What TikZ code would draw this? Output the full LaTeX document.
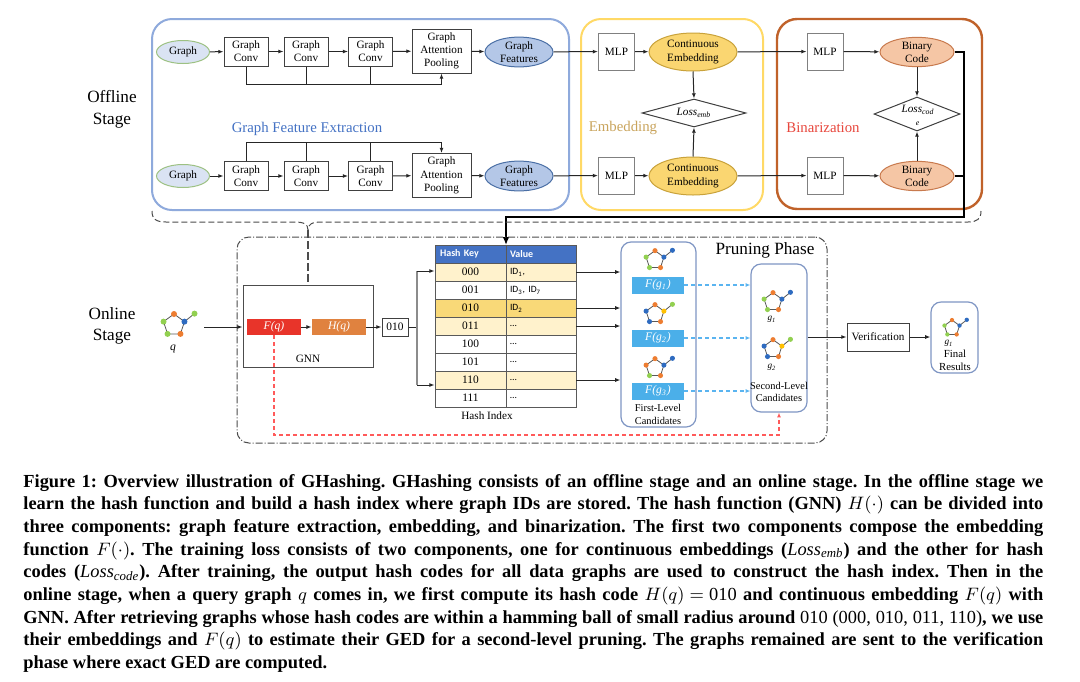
\documentclass[tikz,border=0pt]{standalone}
\usepackage{fontspec}
\setmainfont{Liberation Serif}
\newfontfamily\calib{Carlito}
\usetikzlibrary{arrows.meta,shapes.geometric,calc}
\definecolor{gfblue}{HTML}{4472C4}
\definecolor{boxblue}{HTML}{8FAADC}
\definecolor{boxyel}{HTML}{FFD966}
\definecolor{boxbrown}{HTML}{C0622A}
\definecolor{embtxt}{HTML}{C9A45C}
\definecolor{bintxt}{HTML}{E8473D}
\definecolor{gfill}{HTML}{DAE3F3}
\definecolor{gborder}{HTML}{9DC183}
\definecolor{gffill}{HTML}{B4C7E7}
\definecolor{gfborder}{HTML}{4A6FA5}
\definecolor{cefill}{HTML}{FAD671}
\definecolor{ceborder}{HTML}{C9A23A}
\definecolor{bcfill}{HTML}{F5C6A5}
\definecolor{bcborder}{HTML}{C87A4E}
\definecolor{rowl}{HTML}{FFF2CC}
\definecolor{rowd}{HTML}{F9D978}
\definecolor{hdr}{HTML}{4472C4}
\definecolor{fqred}{HTML}{E8342A}
\definecolor{hqor}{HTML}{E0823F}
\definecolor{fgblue}{HTML}{4BAFE9}
\definecolor{candb}{HTML}{7F96C4}
\definecolor{nor}{HTML}{ED7D31}
\definecolor{nbl}{HTML}{2E6BC0}
\definecolor{ngr}{HTML}{92D050}
\definecolor{nye}{HTML}{FFC000}
\definecolor{dashred}{HTML}{FF5A5A}
\definecolor{dashblue}{HTML}{5AB4F0}
\newcommand\gicon[9]{%
  \begin{scope}[shift={(#1,#2)}, scale=#3]
    \coordinate (gT) at (0,-11);
    \coordinate (gR) at (10.46,-3.4);
    \coordinate (gBR) at (6.47,8.9);
    \coordinate (gBL) at (-6.47,8.9);
    \coordinate (gL) at (-10.46,-3.4);
    \coordinate (gX) at (20.5,-11.4);
    \draw[line width=0.4pt, black!65] (gT)--(gR)--(gBR)--(gBL)--(gL)--cycle (gR)--(gX);
    \fill[#4] (gT) circle (3);
    \fill[#5] (gR) circle (3);
    \fill[#6] (gX) circle (3);
    \fill[#7] (gBR) circle (3);
    \fill[#8] (gBL) circle (3);
    \fill[#9] (gL) circle (3);
  \end{scope}}
\newcommand\itsub[2]{\textit{#1}\textsubscript{\textit{#2}}}
\newcommand\capfont{\bfseries\fontsize{9.2}{10}\selectfont\frenchspacing\thickmuskip=5mu\relax\medmuskip=4mu\relax}
\begin{document}
\begin{tikzpicture}[x=0.5pt,y=-0.5pt,
  lbl/.style={font=\fontsize{5.6}{6.6}\selectfont, align=center, inner sep=0pt},
  sq/.style={lbl, rectangle, draw=black!75, fill=white, line width=0.5pt},
  conv/.style={sq, minimum width=22pt, minimum height=14.5pt},
  pool/.style={sq, minimum width=29.5pt, minimum height=22pt},
  mlp/.style={sq, draw=black!50, minimum width=18pt, minimum height=18.5pt},
  gell/.style={lbl, ellipse, draw=gborder, fill=gfill, line width=0.5pt, minimum width=26.5pt, minimum height=11.5pt},
  gfell/.style={lbl, ellipse, draw=gfborder, fill=gffill, line width=0.5pt, minimum width=34pt, minimum height=13.5pt},
  ceell/.style={lbl, ellipse, draw=ceborder, fill=cefill, line width=0.5pt, minimum width=44pt, minimum height=19pt},
  bcell/.style={lbl, ellipse, draw=bcborder, fill=bcfill, line width=0.5pt, minimum width=37pt, minimum height=14.5pt},
  lossd/.style={diamond, draw=black!75, fill=white, line width=0.5pt, inner sep=0pt},
  arr/.style={-{Latex[length=2.6pt,width=2pt]}, line width=0.5pt, black!85},
  ln/.style={line width=0.5pt, black!85},
  stage/.style={font=\fontsize{8.6}{10.3}\selectfont, align=center, inner sep=0pt},
  ttl/.style={font=\fontsize{7.4}{8.8}\selectfont, inner sep=0pt},
  bigbox/.style={rectangle, rounded corners=10pt, line width=1pt, inner sep=0pt},
  cand/.style={rectangle, draw=candb, line width=0.6pt, rounded corners=5pt, fill=white, inner sep=0pt},
  fgbox/.style={rectangle, fill=fgblue, inner sep=0pt, minimum width=26pt, minimum height=8.5pt, text=white, font=\fontsize{5.8}{6.6}\selectfont},
  cell/.style={rectangle, draw=black!65, line width=0.45pt, inner sep=0pt, minimum height=9pt},
  keyc/.style={cell, minimum width=35.5pt, font=\fontsize{5.7}{6.5}\selectfont},
  valc/.style={cell, text width=31pt, inner xsep=2pt, align=left, font=\calib\fontsize{4.8}{6}\selectfont},
  smalltxt/.style={font=\fontsize{5.2}{6.4}\selectfont, align=center, inner sep=0pt},
  captxt/.style={font=\capfont, inner sep=0pt, anchor=base west}]
\useasboundingbox (0,0) rectangle (1080,681);
\fill[white] (0,0) rectangle (1080,681);

% ---------- offline stage boxes
\node[bigbox, draw=boxblue, minimum width=208.5pt, minimum height=95.5pt] (fe) at (360.5,114.5) {};
\node[bigbox, draw=boxyel, minimum width=91pt, minimum height=95.5pt] (embb) at (672,114.5) {};
\node[bigbox, draw=boxbrown, line width=1.2pt, minimum width=102.5pt, minimum height=95pt] (binb) at (879.5,114) {};

\node[stage] (offl) at (112,109) {Offline\\[0.6pt]Stage};
\node[ttl, text=gfblue] (tfe) at (307,129) {Graph Feature Extraction};
\node[ttl, text=embtxt] (temb) at (623,128) {Embedding};
\node[ttl, text=bintxt] (tbin) at (823,128) {Binarization};

% top row
\node[gell] (g1) at (183,52) {Graph};
\node[conv] (c11) at (246,51.5) {Graph\\Conv};
\node[conv] (c12) at (306,51.5) {Graph\\Conv};
\node[conv] (c13) at (370.5,51.5) {Graph\\Conv};
\node[pool] (p1) at (441.5,51) {Graph\\Attention\\Pooling};
\node[gfell] (gf1) at (519,52) {Graph\\Features};
\node[mlp] (m11) at (616.5,51.5) {MLP};
\node[ceell] (ce1) at (693,52) {Continuous\\Embedding};
\node[mlp] (m12) at (825,51.5) {MLP};
\node[bcell] (bc1) at (917,52) {Binary\\Code};

% bottom row
\node[gell] (g2) at (183,176) {Graph};
\node[conv] (c21) at (246,176) {Graph\\Conv};
\node[conv] (c22) at (306,176) {Graph\\Conv};
\node[conv] (c23) at (370.5,176) {Graph\\Conv};
\node[pool] (p2) at (441.5,175.5) {Graph\\Attention\\Pooling};
\node[gfell] (gf2) at (519,176) {Graph\\Features};
\node[mlp] (m21) at (616.5,175.5) {MLP};
\node[ceell] (ce2) at (693,176) {Continuous\\Embedding};
\node[mlp] (m22) at (825,175.5) {MLP};
\node[bcell] (bc2) at (917,176) {Binary\\Code};

% losses
\node[lossd, minimum width=52pt, minimum height=14pt] (le) at (694,113) {};
\node[lbl] (let) at (le) {\itsub{Loss}{emb}};
\node[lossd, minimum width=43pt, minimum height=17pt] (lc) at (917,114) {};
\node[lbl, font=\fontsize{5.6}{5.4}\selectfont] (lct) at (918,115.5) {\itsub{Loss}{cod}\\\textsubscript{\textit{e}}};

% row connectors
\foreach \a/\b in {g1/c11,c11/c12,c12/c13,c13/p1,p1/gf1,gf1/m11,m11/ce1,ce1/m12,m12/bc1,
                   g2/c21,c21/c22,c22/c23,c23/p2,p2/gf2,gf2/m21,m21/ce2,ce2/m22,m22/bc2}
  \draw[arr] (\a) -- (\b);
\draw[arr] (c11.south) -- ++(0,18) -| (p1.south);
\draw[ln] (c12.south) -- ++(0,18);
\draw[ln] (c13.south) -- ++(0,18);
\draw[arr] (c21.north) -- ++(0,-19) -| (p2.north);
\draw[ln] (c22.north) -- ++(0,-19);
\draw[ln] (c23.north) -- ++(0,-19);
\draw[arr] (ce1.south) -- (le.north);
\draw[arr] (ce2.north) -- (le.south);
\draw[arr] (bc1.south) -- (lc.north);
\draw[arr] (bc2.north) -- (lc.south);

% thick connector to hash table
\coordinate (tc1) at (964,217);
\coordinate (tabtop) at (506,245);
\draw[line width=1.1pt, -{Latex[length=4pt,width=3.4pt]}] (bc1.east) -| (tc1) -| (tabtop);
\draw[line width=1.1pt] (bc2.east) -- (bc2.east -| tc1);

% dashed brace
\coordinate (btip) at (308,230);
\draw[black!70, line width=0.5pt, dash pattern=on 3pt off 1.5pt]
  (152,211) .. controls (152,219) and (156,222) .. (166,222) -- (294,222)
  .. controls (304,222) and (308,224) .. (btip)
  .. controls (308,224) and (312,222) .. (322,222) -- (968,222)
  .. controls (977,222) and (981,219) .. (981,211);

% ---------- online stage
\node[rectangle, draw=black!70, line width=0.5pt, rounded corners=6pt, dash pattern=on 3.5pt off 1pt on 0.5pt off 1pt, minimum width=295pt, minimum height=103pt] (onl) at (532,340) {};
\node[stage] (onlt) at (112,326) {Online\\[0.4pt]Stage};
\node[stage] (prun) at (765,250) {Pruning Phase};

\node[rectangle, draw=black!70, line width=0.5pt, minimum width=65pt, minimum height=41pt] (gnn) at (308,326) {};
\node[lbl] (gnnt) at (308,359) {GNN};
\draw[black!70, line width=0.6pt, dash pattern=on 4pt off 1.5pt] (btip) -- (gnn.north);
\node[rectangle, fill=fqred, minimum width=27pt, minimum height=8pt, inner sep=0pt, text=white, font=\fontsize{5.8}{6.6}\selectfont\itshape] (fq) at (274,327) {F(q)};
\node[rectangle, fill=hqor, minimum width=27pt, minimum height=8pt, inner sep=0pt, text=white, font=\fontsize{5.8}{6.6}\selectfont\itshape] (hq) at (339,327) {H(q)};
\node[sq, minimum width=13pt, minimum height=9pt, font=\fontsize{5.7}{6.5}\selectfont] (b010) at (395,327) {010};
\draw[arr] (fq) -- (hq);
\draw[arr] (hq) -- (b010);

\gicon{174}{325}{1}{nor}{nbl}{ngr}{nor}{ngr}{ngr}
\node[lbl, font=\fontsize{5.8}{6.6}\selectfont\itshape] (ql) at (173,349) {q};
\coordinate (qout) at (204,327);
\draw[arr] (qout) -- (qout -| gnn.west);

% hash table
\node[cell, fill=hdr, text=white, minimum width=35.5pt, text width=30.5pt, inner xsep=2.5pt, align=left, font=\calib\bfseries\fontsize{5}{6}\selectfont] (hk) at (470.5,254) {Hash Key};
\node[cell, fill=hdr, text=white, text width=31pt, inner xsep=2pt, align=left, font=\calib\bfseries\fontsize{5}{6}\selectfont] (hv) at (541,254) {Value};
\foreach \k/\v/\c [count=\i from 0] in {000/{ID\textsubscript{1},}/rowl, 001/{ID\textsubscript{3}, ID\textsubscript{7}}/white, 010/{ID\textsubscript{2}}/rowd, 011/{…}/rowl, 100/{…}/white, 101/{…}/white, 110/{…}/rowl, 111/{…}/white}{
  \node[keyc, fill=\c] (k\i) at (470.5,{272+18*\i}) {\k};
  \node[valc, fill=\c] (v\i) at (541,{272+18*\i}) {\v};
}
\node[lbl] (hidx) at (487,416) {Hash Index};

\coordinate (sp) at (417,327);
\draw[ln] (b010.east) -- (sp);
\draw[black!45, line width=1pt] (417,271) -- (417,385);
\coordinate (s1) at (417,271);
\coordinate (s2) at (417,385);
\draw[arr] (s1) -- (s1 -| k0.west);
\draw[arr] (s2) -- (s2 -| k6.west);

% first-level candidates
\node[cand, minimum width=37.5pt, minimum height=92.5pt] (fl) at (658.5,334.5) {};
\foreach \i in {0,2,3,6}
  \draw[arr] (v\i.east) -- (v\i.east -| fl.west);
\gicon{655}{260}{0.85}{nor}{nbl}{nbl}{nor}{ngr}{ngr}
\gicon{655}{314}{0.85}{nor}{nye}{ngr}{nor}{nbl}{nbl}
\gicon{655}{368}{0.85}{nor}{nbl}{nbl}{nor}{ngr}{nor}
\node[fgbox] (fg1) at (658,285) {\itsub{F(g}{1}\textit{)}};
\node[fgbox] (fg2) at (658,338) {\itsub{F(g}{2}\textit{)}};
\node[fgbox] (fg3) at (658,391) {\itsub{F(g}{3}\textit{)}};
\node[smalltxt] (flt) at (658,414.5) {First-Level\\Candidates};

% second-level candidates
\node[cand, minimum width=28pt, minimum height=74pt] (sl) at (779,338) {};
\gicon{773}{302}{0.85}{nor}{nbl}{nbl}{nor}{ngr}{ngr}
\node[lbl, font=\fontsize{4.6}{5}\selectfont] (sg1) at (772,319) {\itsub{g}{1}};
\gicon{773}{349}{0.85}{nor}{nye}{ngr}{nor}{nbl}{nbl}
\node[lbl, font=\fontsize{4.6}{5}\selectfont] (sg2) at (772,367) {\itsub{g}{2}};
\node[smalltxt] (slt) at (779,392) {Second-Level\\Candidates};
\foreach \i in {1,2,3}
  \draw[dashblue, line width=0.6pt, dash pattern=on 2pt off 1.5pt, -{Latex[length=2.4pt,width=2pt]}] (fg\i.east) -- (fg\i.east -| sl.west);

% verification and final
\node[sq, minimum width=31pt, minimum height=14pt] (ver) at (878,337) {Verification};
\node[cand, minimum width=23.5pt, minimum height=35.5pt] (fin) at (954.5,337.5) {};
\gicon{952}{328}{0.72}{nor}{nbl}{nbl}{nor}{ngr}{ngr}
\node[lbl, font=\fontsize{4.6}{5}\selectfont] (fg1l) at (949,343) {\itsub{g}{1}};
\node[smalltxt, font=\fontsize{5.4}{6.5}\selectfont] (fint) at (955,360.5) {Final\\Results};
\draw[arr] (sl.east |- ver) -- (ver.west);
\draw[arr] (ver.east) -- (fin.west |- ver);

% red dashed feedback
\coordinate (rd) at (274,435);
\draw[dashred, line width=0.6pt, dash pattern=on 2pt off 1.5pt, -{Latex[length=2.4pt,width=2pt]}] (fq.south) -- (rd) -| (sl.south);

% ---------- caption
\node[captxt] (cap1) at (23,487) {\makebox[510pt][s]{Figure 1: Overview illustration of GHashing. GHashing consists of an offline stage and an online stage. In the offline stage we}};
\node[captxt] (cap2) at (23,509.7) {\makebox[510pt][s]{learn the hash function and build a hash index where graph IDs are stored. The hash function (GNN) $H(\cdot)$ can be divided into}};
\node[captxt] (cap3) at (23,532.4) {\makebox[510pt][s]{three components: graph feature extraction, embedding, and binarization. The first two components compose the embedding}};
\node[captxt] (cap4) at (23,555.1) {\makebox[510pt][s]{function $F(\cdot)$. The training loss consists of two components, one for continuous embeddings ($\mathit{Loss}_{\mathit{emb}}$) and the other for hash}};
\node[captxt] (cap5) at (23,577.8) {\makebox[510pt][s]{codes ($\mathit{Loss}_{\mathit{code}}$). After training, the output hash codes for all data graphs are used to construct the hash index. Then in the}};
\node[captxt] (cap6) at (23,600.5) {\makebox[510pt][s]{online stage, when a query graph $q$ comes in, we first compute its hash code $H(q)=\mathrm{010}$ and continuous embedding $F(q)$ with}};
\node[captxt] (cap7) at (23,623.2) {\makebox[510pt][s]{GNN. After retrieving graphs whose hash codes are within a hamming ball of small radius around {\mdseries 010 (000, 010, 011, 110)}, we use}};
\node[captxt] (cap8) at (23,645.9) {\makebox[510pt][s]{their embeddings and $F(q)$ to estimate their GED for a second-level pruning. The graphs remained are sent to the verification}};
\node[captxt] (cap9) at (23,668.6) {phase where exact GED are computed.};
\end{tikzpicture}
\end{document}
